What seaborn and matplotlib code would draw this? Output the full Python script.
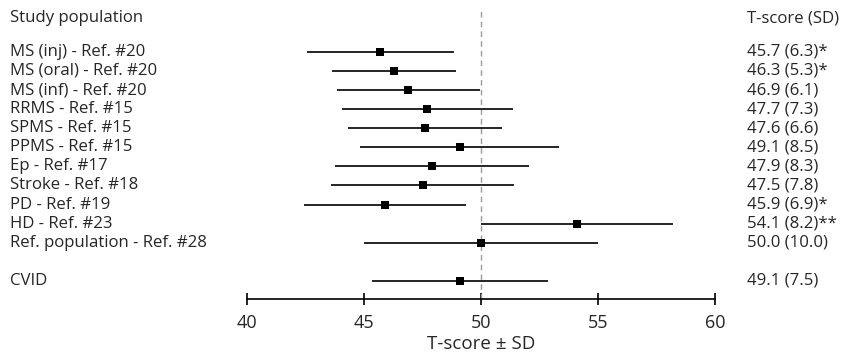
import matplotlib
matplotlib.use("Agg")
import matplotlib.pyplot as plt
import matplotlib.transforms as mtransforms
import seaborn as sns
import numpy as np
import pandas as pd

studies = ["MS (inj) - Ref. #20", "MS (oral) - Ref. #20", "MS (inf) - Ref. #20",
           "RRMS - Ref. #15", "SPMS - Ref. #15", "PPMS - Ref. #15",
           "Ep - Ref. #17", "Stroke - Ref. #18", "PD - Ref. #19",
           "HD - Ref. #23", "Ref. population - Ref. #28", "CVID"]
means = [45.7, 46.3, 46.9, 47.7, 47.6, 49.1, 47.9, 47.5, 45.9, 54.1, 50.0, 49.1]
sds = [6.3, 5.3, 6.1, 7.3, 6.6, 8.5, 8.3, 7.8, 6.9, 8.2, 10.0, 7.5]
stars = ["*", "*", "", "", "", "", "", "", "*", "**", "", ""]
rows = [0, 1, 2, 3, 4, 5, 6, 7, 8, 9, 10, 12]
xticks = [40, 45, 50, 55, 60]

df = pd.DataFrame({"study": studies, "mean": means, "sd": sds, "row": rows})
df["lo"] = df["mean"] - df["sd"] / 2
df["hi"] = df["mean"] + df["sd"] / 2

sns.set_style("white")
plt.rcParams["font.family"] = ["Open Sans", "DejaVu Sans"]
FS = 12.1

fig = plt.figure(figsize=(8.41, 3.54), dpi=100)
ax = fig.add_axes([247 / 841, (354 - 299) / 354, (715 - 247) / 841, (299 - 8) / 354])

ax.axvline(50, color="#9a9a9a", lw=1.0, ls=(0, (4, 3)), zorder=1)
ax.hlines(df["row"], df["lo"], df["hi"], color="black", lw=1.2, zorder=2)
sns.scatterplot(data=df, x="mean", y="row", marker="s", s=32, color="black",
                edgecolor="black", linewidth=0, ax=ax, zorder=3, legend=False)

ax.set_xlim(40, 60)
ax.set_ylim(12.95, -2.3)
ax.set_xticks(xticks)
ax.set_xticklabels([str(t) for t in xticks], fontsize=13)
ax.set_yticks([])
ax.set_xlabel("T-score ± SD", fontsize=13.5, labelpad=2)
ax.set_ylabel("")
for s in ["top", "right", "left"]:
    ax.spines[s].set_visible(False)
ax.spines["bottom"].set_color("black")
ax.spines["bottom"].set_linewidth(1.2)
ax.tick_params(axis="x", bottom=True, direction="inout", length=8, width=1.2,
               pad=7, color="black")

trans = mtransforms.blended_transform_factory(fig.transFigure, ax.transData)
ax.text(10 / 841, -1.75, "Study population", transform=trans, fontsize=FS,
        va="center", ha="left", clip_on=False)
ax.text(747 / 841, -1.75, "T-score (SD)", transform=trans, fontsize=FS,
        va="center", ha="left", clip_on=False)
for name, m, sd, st, r in zip(studies, means, sds, stars, rows):
    ax.text(10 / 841, r, name, transform=trans, fontsize=FS, va="center",
            ha="left", clip_on=False)
    ax.text(747 / 841, r, f"{m:.1f} ({sd:.1f}){st}", transform=trans, fontsize=FS,
            va="center", ha="left", clip_on=False)

fig.savefig("out.png", dpi=100, facecolor="white")
